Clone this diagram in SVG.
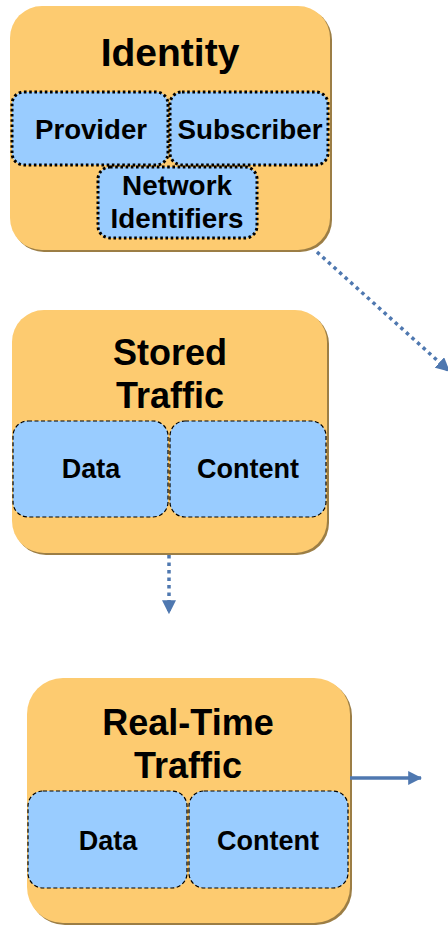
<svg xmlns="http://www.w3.org/2000/svg" width="448" height="925" viewBox="0 0 448 925">
  <style>
    .box { fill: #FDCB70; }
    .shadow { fill: #9C7E45; }
    .part { fill: #99CCFF; stroke: #000; stroke-width: 1.2; stroke-dasharray: 4 2.5; }
    .part-dot { fill: #99CCFF; stroke: #000; stroke-width: 3; stroke-dasharray: 2.6 2.6; }
    text { font-family: "Liberation Sans", Arial, sans-serif; font-weight: bold; text-anchor: middle; fill: #000; }
    .title-xl { font-size: 39px; }
    .title { font-size: 36px; }
    .label { font-size: 27px; }
    .link { fill: none; stroke: #4F78B0; stroke-width: 3.5; }
    .dots { stroke-dasharray: 3.5 4; }
  </style>
  <defs>
    <marker id="arrow" viewBox="0 0 12 12" refX="11" refY="6" markerWidth="14" markerHeight="14" markerUnits="userSpaceOnUse" orient="auto">
      <path d="M0,0 L12,6 L0,12 Z" fill="#4F78B0"/>
    </marker>
  </defs>

  <!-- Identity -->
  <g id="identity">
    <rect class="shadow" x="12" y="8" width="320" height="244" rx="32"/>
    <rect class="box" x="10" y="6" width="320" height="244" rx="32"/>
    <text class="title-xl" x="170" y="66">Identity</text>
    <g id="provider">
      <rect class="part-dot" x="12" y="92" width="156" height="73" rx="12"/>
      <text class="label" x="91" y="139" textLength="112" lengthAdjust="spacingAndGlyphs">Provider</text>
    </g>
    <g id="subscriber">
      <rect class="part-dot" x="170" y="92" width="158" height="73" rx="12"/>
      <text class="label" x="250" y="139" textLength="145" lengthAdjust="spacingAndGlyphs">Subscriber</text>
    </g>
    <g id="network-identifiers">
      <rect class="part-dot" x="98" y="167" width="159" height="71" rx="12"/>
      <text class="label" x="177" y="195" textLength="110" lengthAdjust="spacingAndGlyphs">Network</text>
      <text class="label" x="177" y="228" textLength="133" lengthAdjust="spacingAndGlyphs">Identifiers</text>
    </g>
  </g>

  <!-- Stored Traffic -->
  <g id="stored-traffic">
    <rect class="shadow" x="14" y="312" width="315" height="243" rx="32"/>
    <rect class="box" x="12" y="310" width="315" height="243" rx="32"/>
    <text class="title" x="170" y="365">Stored</text>
    <text class="title" x="170" y="408">Traffic</text>
    <g id="stored-data">
      <rect class="part" x="13" y="421" width="155" height="96" rx="15"/>
      <text class="label" x="91" y="478">Data</text>
    </g>
    <g id="stored-content">
      <rect class="part" x="170" y="421" width="156" height="96" rx="15"/>
      <text class="label" x="248" y="478">Content</text>
    </g>
  </g>

  <!-- Real-Time Traffic -->
  <g id="real-time-traffic">
    <rect class="shadow" x="29" y="680" width="323" height="245" rx="36"/>
    <rect class="box" x="27" y="678" width="323" height="245" rx="36"/>
    <text class="title" x="188" y="735">Real-Time</text>
    <text class="title" x="188" y="778">Traffic</text>
    <g id="realtime-data">
      <rect class="part" x="28" y="791" width="159" height="97" rx="15"/>
      <text class="label" x="108" y="850">Data</text>
    </g>
    <g id="realtime-content">
      <rect class="part" x="189" y="791" width="159" height="97" rx="15"/>
      <text class="label" x="268" y="850">Content</text>
    </g>
  </g>

  <!-- Connectors -->
  <g id="connectors">
    <line class="link dots" x1="317" y1="252" x2="449" y2="371" marker-end="url(#arrow)"/>
    <line class="link dots" x1="169" y1="555" x2="169" y2="613" marker-end="url(#arrow)"/>
    <line class="link" x1="350" y1="778" x2="421" y2="778" marker-end="url(#arrow)"/>
  </g>
</svg>
